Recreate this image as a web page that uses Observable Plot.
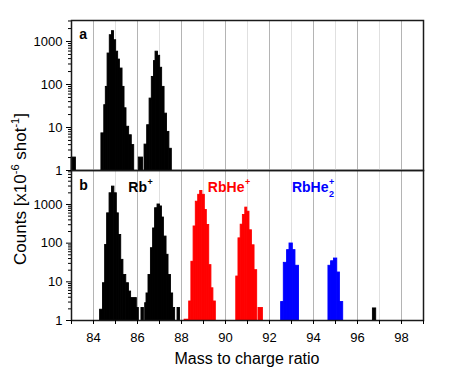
<!DOCTYPE html>
<html><head><meta charset="utf-8">
<script src="https://cdn.jsdelivr.net/npm/d3@7"></script>
<script src="https://cdn.jsdelivr.net/npm/@observablehq/plot@0.6"></script>
<style>
body{margin:0;background:#fff;font-family:"Liberation Sans",Arial,Helvetica,sans-serif;}
#chart{position:relative;width:471px;height:377px;overflow:hidden;background:#fff;}
#chart svg{display:block;overflow:visible;}
#panelA{position:relative;z-index:2;}
#panelB{position:relative;z-index:1;}
.ytitle{position:absolute;z-index:3;left:20px;top:189px;transform:translate(-50%,-50%) rotate(-90deg);white-space:nowrap;font-size:17px;line-height:1;color:#000;}
.xtitle{position:absolute;z-index:3;left:71px;width:352px;top:351px;text-align:center;font-size:16px;line-height:1;white-space:nowrap;color:#000;}
.sp{font-size:11px;position:relative;top:-0.65em;}
</style></head>
<body>
<div id="chart">
  <div id="panelA"></div>
  <div id="panelB"></div>
  <div class="ytitle">Counts [x10<span class="sp">-6</span> shot<span class="sp">-1</span>]</div>
  <div class="xtitle">Mass to charge ratio</div>
</div>
<script>
// ---- axis ticks ----
const massTicks = [83,84,85,86,87,88,89,90,91,92,93,94,95,96,97,98,99];
const massTickLabels = [84,86,88,90,92,94,96,98];
const countTicks = [1,10,100,1000];
const countMinorA = [2,3,4,5,6,7,8,9,20,30,40,50,60,70,80,90,200,300,400,500,600,700,800,900,2000,3000];
const countMinorB = [2,3,4,5,6,7,8,9,20,30,40,50,60,70,80,90,200,300,400,500,600,700,800,900,2000,3000,4000,5000,6000,7000];

// ---- series ----
const seriesNames = ["Rb+", "RbHe+", "RbHe2+"];
const seriesColors = ["#000000", "#ff0000", "#0000ff"];

// ---- panel a (bin edges in m/z, counts) ----
const a83Edges = [83.0, 83.2];
const a83Counts = [2];
const a85Edges = [84.36, 84.49, 84.56, 84.64, 84.74, 84.84, 84.93, 85.03, 85.12, 85.2, 85.32, 85.41, 85.5, 85.62, 85.74, 85.85];
const a85Counts = [7.3, 33, 88, 525, 1400, 1740, 1070, 580, 380, 235, 88, 28, 10.4, 6.6, 3.9];
const a86Edges = [86.06, 86.25];
const a86Counts = [2];
const a87Edges = [86.32, 86.44, 86.55, 86.65, 86.75, 86.82, 86.93, 87.03, 87.12, 87.23, 87.34, 87.45, 87.56];
const a87Counts = [4, 11.3, 47, 150, 350, 580, 465, 245, 88, 21, 7.9, 3.2];

// ---- panel b ----
const b85Edges = [84.30, 84.43, 84.53, 84.62, 84.73, 84.84, 84.95, 85.06, 85.15, 85.26, 85.36, 85.49, 85.61, 85.71, 85.97, 86.06];
const b85Counts = [1.9, 9.2, 90, 590, 1950, 2900, 1950, 590, 163, 37, 15, 9.2, 5.6, 3.8, 2.1];
const b86Edges = [86.18, 86.29];
const b86Counts = [2.1];
const b87Edges = [86.35, 86.41, 86.5, 86.61, 86.71, 86.8, 86.91, 87.02, 87.11, 87.2, 87.32, 87.41, 87.52, 87.62, 87.71];
const b87Counts = [2.8, 5, 15, 74, 240, 800, 1000, 890, 460, 148, 50, 15, 5, 2.1];
const b88Edges = [87.82, 87.93];
const b88Counts = [2.1];
const b97Edges = [96.7, 96.85];
const b97Counts = [2.05];

const he88Edges = [88.14, 88.35];
const he88Counts = [1.05];
const he89Edges = [88.35, 88.45, 88.55, 88.65, 88.76, 88.85, 88.95, 89.06, 89.15, 89.26, 89.36, 89.45, 89.56];
const he89Counts = [3.1, 33, 270, 1180, 1780, 2240, 1780, 720, 295, 27, 6.8, 3.1];
const he91Edges = [90.49, 90.59, 90.69, 90.79, 90.9, 90.99, 91.09, 91.2, 91.32, 91.44];
const he91Counts = [13.7, 133, 300, 535, 830, 650, 215, 88, 20];
const he92Edges = [91.5, 91.7];
const he92Counts = [2.1];

const he2_93Edges = [92.53, 92.65, 92.8, 92.91, 93.06, 93.18, 93.34];
const he2_93Counts = [3, 31, 66, 98, 66, 26];
const he2_95Edges = [94.68, 94.8, 94.93, 95.08, 95.2, 95.35];
const he2_95Counts = [26, 34, 40, 17.4, 3];

// ---- labels ----
const panelLetters = ["a", "b"];
const ionLabelText = ["Rb", "RbHe", "RbHe"];
const ionLabelSup = ["+", "+", "+"];
const ionLabelSub = ["", "", "2"];
const ionLabelMass = [86.43, 90.86, 94.68]; // m/z where the label base text ends

// ---- build tables ----
function toBars(edges, counts, series) {
  return counts.map((c, i) => ({x1: edges[i], x2: edges[i + 1], count: c, base: 1, series}));
}
const barsA = [
  ...toBars(a83Edges, a83Counts, "Rb+"),
  ...toBars(a85Edges, a85Counts, "Rb+"),
  ...toBars(a86Edges, a86Counts, "Rb+"),
  ...toBars(a87Edges, a87Counts, "Rb+")
];
const barsB = [
  ...toBars(b85Edges, b85Counts, "Rb+"),
  ...toBars(b86Edges, b86Counts, "Rb+"),
  ...toBars(b87Edges, b87Counts, "Rb+"),
  ...toBars(b88Edges, b88Counts, "Rb+"),
  ...toBars(b97Edges, b97Counts, "Rb+"),
  ...toBars(he88Edges, he88Counts, "RbHe+"),
  ...toBars(he89Edges, he89Counts, "RbHe+"),
  ...toBars(he91Edges, he91Counts, "RbHe+"),
  ...toBars(he92Edges, he92Counts, "RbHe+"),
  ...toBars(he2_93Edges, he2_93Counts, "RbHe2+"),
  ...toBars(he2_95Edges, he2_95Counts, "RbHe2+")
];
const ionLabels = ionLabelText.map((t, i) => ({text: t, sup: ionLabelSup[i], sub: ionLabelSub[i], x: ionLabelMass[i], series: seriesNames[i]}));

const font = '"Liberation Sans", Arial, Helvetica, sans-serif';

function panel({bars, yTop, height, marginTop, marginBottom, minor, letter, letterY, labelY, labels, showX}) {
  const gridEven = massTicks.filter(d => d > 83 && d < 99 && d % 2 === 0);
  const gridOdd = massTicks.filter(d => d > 83 && d < 99 && d % 2 === 1);
  const marks = [
    Plot.ruleX(gridOdd, {stroke: "#e0e0e0", strokeWidth: 1}),
    Plot.ruleX(gridEven, {stroke: "#b4b4b4", strokeWidth: 1}),
    Plot.rect(bars, {x1: "x1", x2: "x2", y1: "base", y2: "count", fill: "series", stroke: "series", strokeWidth: 0.9, inset: 0, insetLeft: 0, insetRight: 0}),
    Plot.axisY(minor, {tickSize: 3, tickFormat: () => "", label: null}),
    Plot.axisY(countTicks, {tickSize: 5, tickPadding: 4, tickFormat: d => String(d), label: null}),
    Plot.frame({stroke: "#1a1a1a", strokeWidth: 1.5}),
    Plot.text([letter], {x: () => 83.35, y: () => letterY, text: d => d, fill: "black", textAnchor: "start", lineAnchor: "bottom", fontWeight: "bold", fontSize: 14})
  ];
  if (labels) {
    marks.push(
      Plot.text(labels, {x: "x", y: () => labelY, text: "text", fill: "series", textAnchor: "end", lineAnchor: "bottom", fontWeight: "bold", fontSize: 14}),
      Plot.text(labels, {x: "x", y: () => labelY, text: "sup", fill: "series", textAnchor: "start", lineAnchor: "bottom", fontWeight: "bold", fontSize: 9, dx: 0.5, dy: -7}),
      Plot.text(labels.filter(d => d.sub), {x: "x", y: () => labelY, text: "sub", fill: "series", textAnchor: "start", lineAnchor: "bottom", fontWeight: "bold", fontSize: 9, dx: 0.5, dy: 5})
    );
  }
  if (showX) {
    marks.push(Plot.axisX(massTicks, {tickSize: 4, tickPadding: 8, tickFormat: d => massTickLabels.includes(d) ? String(d) : "", label: null}));
  }
  return Plot.plot({
    width: 471, height, marginTop, marginBottom, marginLeft: 71, marginRight: 48,
    x: {domain: [83, 99], axis: showX ? undefined : null},
    y: {type: "log", domain: [1, yTop]},
    color: {domain: seriesNames, range: seriesColors},
    style: {fontFamily: font, fontSize: "13px", background: "transparent", color: "black", overflow: "visible"},
    marks
  });
}

document.getElementById("panelA").appendChild(panel({
  bars: barsA, yTop: 3080, height: 170, marginTop: 20, marginBottom: 0, minor: countMinorA,
  letter: panelLetters[0], letterY: 1150, showX: false
}));
document.getElementById("panelB").appendChild(panel({
  bars: barsB, yTop: 7570, height: 207, marginTop: 0, marginBottom: 57, minor: countMinorB,
  letter: panelLetters[1], letterY: 2440, labelY: 2150, labels: ionLabels, showX: true
}));
</script>
</body></html>
